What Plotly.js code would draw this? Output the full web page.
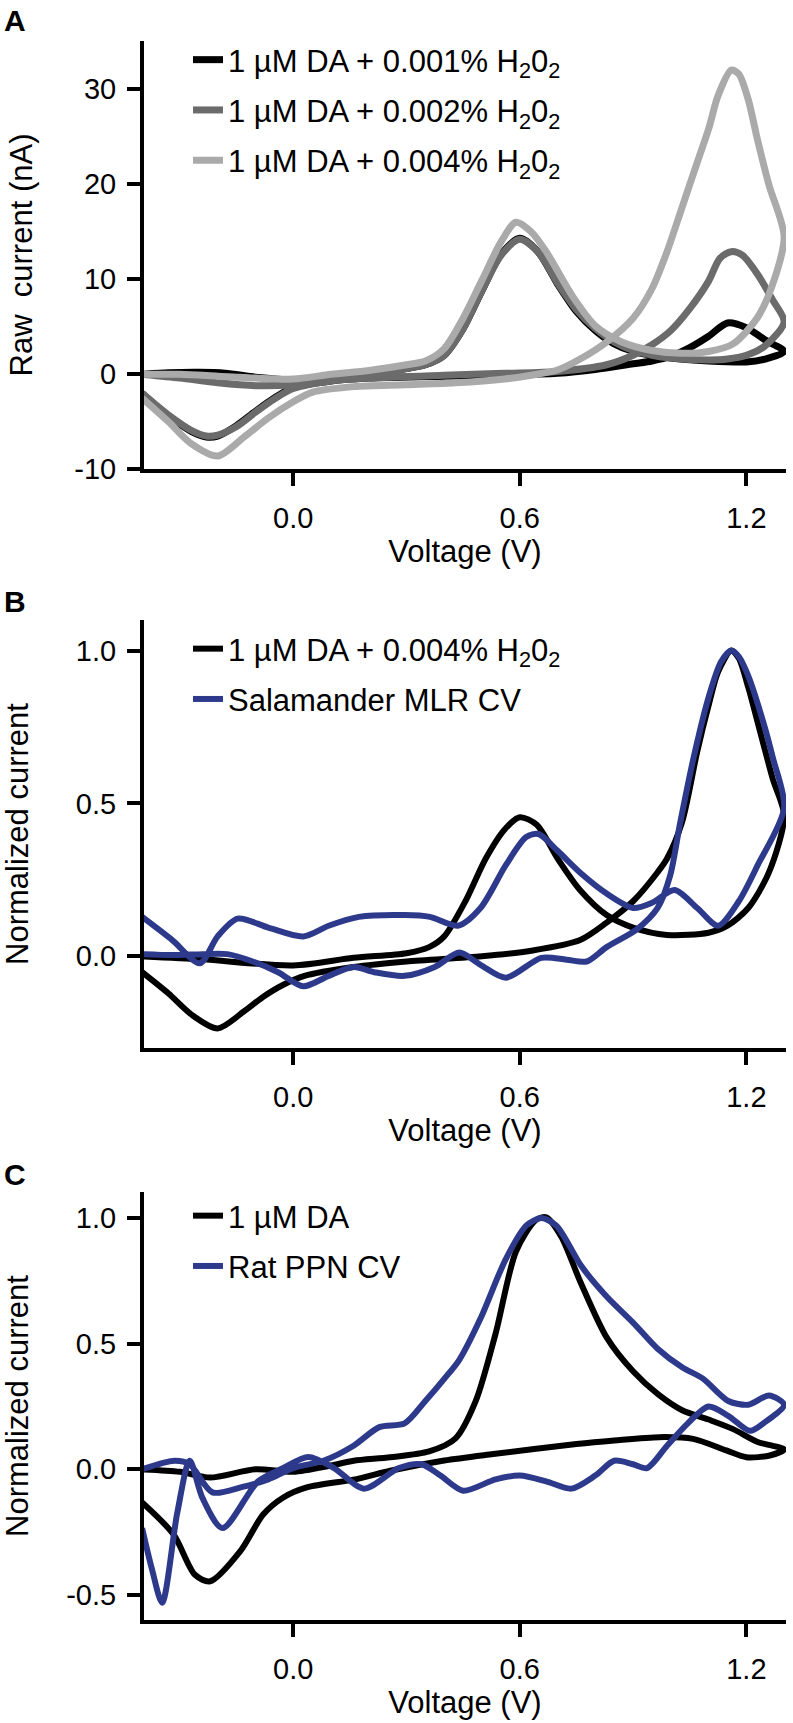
<!DOCTYPE html>
<html>
<head>
<meta charset="utf-8">
<script src="https://cdn.plot.ly/plotly-3.0.1.min.js"></script>
<style>html,body{margin:0;padding:0;background:#fff}#chart{width:793px;height:1723px}</style>
</head>
<body>
<div id="chart"></div>
<script>
// ---------- Panel A : raw current (nA) ----------
const aBlackName = '1 µM DA + 0.001% H<sub>2</sub>0<sub>2</sub>';
const aBlackV = [-0.40,-0.33,-0.25,-0.18,-0.10,0.00,0.10,0.20,0.30,0.35,0.40,0.45,0.50,0.55,0.60,0.65,0.70,0.75,0.80,0.85,0.90,1.00,1.10,1.20,1.25,1.30,
                 1.25,1.20,1.15,1.10,1.05,1.00,0.95,0.90,0.80,0.70,0.55,0.40,0.20,0.10,0.00,-0.05,-0.10,-0.15,-0.20,-0.23,-0.27,-0.33,-0.40];
const aBlackI = [0.0,0.15,0.2,0.1,-0.3,-0.6,-0.5,0.0,0.6,1.0,2.0,4.8,8.8,12.6,14.3,12.8,9.5,6.6,4.6,3.2,2.4,1.7,1.4,1.3,1.6,2.4,
                 3.6,4.9,5.4,4.0,2.8,1.9,1.4,1.1,0.5,0.1,-0.1,-0.2,-0.4,-0.7,-1.4,-2.5,-3.9,-5.4,-6.5,-6.6,-6.0,-4.4,-2.0];

const aGrayName = '1 µM DA + 0.002% H<sub>2</sub>0<sub>2</sub>';
const aGrayV = [-0.40,-0.30,-0.20,-0.10,0.00,0.10,0.20,0.30,0.35,0.40,0.45,0.50,0.55,0.60,0.65,0.70,0.75,0.80,0.85,0.90,0.95,1.00,1.10,1.15,1.20,1.25,1.30,
                1.27,1.23,1.19,1.16,1.13,1.10,1.05,1.00,0.95,0.90,0.83,0.70,0.56,0.40,0.20,0.10,0.00,-0.05,-0.10,-0.15,-0.20,-0.23,-0.27,-0.33,-0.40];
const aGrayI = [0.0,-0.4,-0.9,-1.2,-1.1,-0.6,0.0,0.6,1.0,2.0,4.8,8.8,12.5,14.2,12.8,9.6,6.8,4.8,3.4,2.5,2.0,1.7,1.5,1.6,2.0,3.0,5.5,
                7.8,10.5,12.5,12.9,12.2,9.8,6.9,4.6,3.1,2.0,1.0,0.3,0.1,-0.1,-0.4,-0.7,-1.5,-2.6,-4.0,-5.5,-6.4,-6.5,-5.9,-4.3,-2.0];

const aLightName = '1 µM DA + 0.004% H<sub>2</sub>0<sub>2</sub>';
const aLightV = [-0.40,-0.30,-0.20,-0.10,0.00,0.10,0.20,0.30,0.35,0.40,0.45,0.50,0.55,0.59,0.63,0.67,0.74,0.80,0.87,0.95,1.03,1.10,1.165,1.23,1.27,1.30,
                 1.26,1.23,1.205,1.18,1.16,1.125,1.10,1.07,1.03,0.99,0.95,0.90,0.83,0.76,0.70,0.63,0.56,0.43,0.30,0.16,0.05,0.00,-0.066,-0.13,-0.20,-0.27,-0.33,-0.40];
const aLightI = [0.0,0.0,-0.2,-0.4,-0.5,0.0,0.4,1.0,1.4,2.7,5.9,9.9,13.9,16.0,15.0,12.9,8.2,5.1,3.4,2.5,2.2,2.4,3.2,6.0,9.5,14.5,
                 19.9,24.6,28.9,31.6,32.0,29.3,25.8,22.3,17.6,12.9,9.0,5.9,3.4,1.6,0.45,-0.1,-0.5,-0.9,-1.1,-1.3,-1.9,-2.9,-4.6,-6.6,-8.6,-7.3,-5.0,-2.5];

// ---------- Panel B : normalized current ----------
const bBlackName = '1 µM DA + 0.004% H<sub>2</sub>0<sub>2</sub>';
const bBlackV = [-0.40,-0.24,0.00,0.16,0.30,0.36,0.40,0.456,0.51,0.56,0.60,0.645,0.70,0.76,0.83,0.90,0.99,1.10,1.15,1.205,1.26,1.30,
                 1.27,1.23,1.205,1.18,1.16,1.125,1.10,1.07,1.03,0.99,0.965,0.90,0.83,0.76,0.63,0.50,0.30,0.16,0.03,-0.026,-0.08,-0.13,-0.20,-0.27,-0.33,-0.40];
const bBlackI = [0.0,-0.01,-0.03,-0.005,0.01,0.03,0.065,0.18,0.32,0.415,0.455,0.43,0.32,0.216,0.135,0.094,0.07,0.077,0.10,0.158,0.275,0.46,
                 0.58,0.765,0.88,0.975,1.0,0.93,0.82,0.67,0.44,0.32,0.275,0.18,0.11,0.053,0.018,0.0,-0.017,-0.035,-0.064,-0.093,-0.133,-0.18,-0.236,-0.19,-0.122,-0.052];

const bBlueName = 'Salamander MLR CV';
const bBlueV = [-0.40,-0.32,-0.247,-0.20,-0.147,-0.066,0.027,0.094,0.174,0.295,0.362,0.436,0.496,0.563,0.617,0.65,0.70,0.764,0.83,0.90,0.95,1.01,1.07,1.125,1.18,1.23,1.30,
                1.27,1.245,1.205,1.18,1.16,1.133,1.10,1.06,1.025,0.998,0.965,0.91,0.83,0.777,0.724,0.657,0.563,0.496,0.44,0.375,0.295,0.215,0.16,0.094,0.027,-0.04,-0.107,-0.174,-0.24,-0.32,-0.40];
const bBlueI = [0.129,0.053,-0.023,0.065,0.123,0.094,0.065,0.10,0.129,0.135,0.129,0.10,0.158,0.298,0.39,0.40,0.345,0.269,0.205,0.158,0.175,0.217,0.158,0.10,0.18,0.298,0.485,
                0.65,0.765,0.917,0.98,1.0,0.963,0.847,0.648,0.438,0.263,0.158,0.088,0.03,-0.017,-0.011,-0.005,-0.07,-0.028,0.012,-0.035,-0.064,-0.052,-0.035,-0.064,-0.098,-0.052,-0.017,0.007,0.007,0.004,0.007];

// ---------- Panel C : normalized current ----------
const cBlackName = '1 µM DA';
const cBlackV = [-0.40,-0.30,-0.22,-0.10,0.00,0.10,0.16,0.257,0.36,0.43,0.483,0.536,0.59,0.643,0.67,0.71,0.76,0.83,0.90,0.965,1.03,1.10,1.165,1.23,1.30,
                 1.262,1.20,1.147,1.059,0.97,0.85,0.75,0.53,0.40,0.257,0.168,0.036,-0.026,-0.079,-0.14,-0.22,-0.26,-0.317,-0.40];
const cBlackI = [0.0,-0.01,-0.033,0.0,-0.01,0.015,0.034,0.048,0.071,0.123,0.27,0.54,0.867,0.993,1.003,0.926,0.748,0.525,0.39,0.30,0.235,0.198,0.16,0.109,0.079,
                 0.055,0.048,0.075,0.121,0.128,0.115,0.101,0.061,0.035,-0.006,-0.039,-0.072,-0.112,-0.179,-0.326,-0.446,-0.42,-0.259,-0.132];

const cBlueName = 'Rat PPN CV';
const cBlueV = [-0.40,-0.314,-0.274,-0.214,-0.134,-0.066,0.00,0.08,0.16,0.228,0.295,0.35,0.40,0.44,0.496,0.563,0.617,0.657,0.697,0.764,0.83,0.90,0.965,1.03,1.085,1.152,1.205,1.26,1.30,
                1.245,1.21,1.152,1.10,1.045,0.99,0.937,0.90,0.85,0.80,0.737,0.67,0.60,0.536,0.45,0.39,0.34,0.28,0.188,0.108,0.04,-0.026,-0.093,-0.187,-0.24,-0.274,-0.307,-0.347,-0.374,-0.40];
const cBlueI = [0.0,0.034,0.02,-0.092,-0.07,-0.04,0.005,0.034,0.094,0.168,0.183,0.272,0.36,0.436,0.60,0.837,0.97,1.0,0.97,0.807,0.688,0.584,0.48,0.406,0.361,0.272,0.257,0.294,0.257,
                0.183,0.153,0.213,0.25,0.183,0.094,0.005,0.02,0.034,-0.025,-0.077,-0.048,-0.025,-0.04,-0.085,-0.025,0.02,0.005,-0.077,0.005,0.049,0.005,-0.048,-0.234,-0.115,0.034,-0.174,-0.531,-0.397,-0.234];

// ---------- Axis ticks ----------
const xTickVals = [0, 0.6, 1.2];
const xTickText = ['0.0', '0.6', '1.2'];
const aTickVals = [-10, 0, 10, 20, 30];
const aTickText = ['-10', '0', '10', '20', '30'];
const bTickVals = [0, 0.5, 1.0];
const bTickText = ['0.0', '0.5', '1.0'];
const cTickVals = [-0.5, 0, 0.5, 1.0];
const cTickText = ['-0.5', '0.0', '0.5', '1.0'];

// ---------- styling ----------
const FONT = 'Liberation Sans, Arial, Helvetica, sans-serif';
const BLACK = '#000000', DARK = '#6b6b6b', LIGHT = '#aaaaaa', BLUE = '#2d3a8c';
const H = 1723, W = 793;

function trace(x, y, name, color, width, xa, ya, legend, group) {
  return {x: x, y: y, name: name, type: 'scatter', mode: 'lines',
          line: {color: color, width: width, shape: 'spline', smoothing: 0.8},
          xaxis: xa, yaxis: ya, legend: legend, legendgroup: group, hoverinfo: 'skip'};
}

const data = [
  trace(aBlackV, aBlackI, aBlackName, BLACK, 7, 'x', 'y', 'legend', 'a1'),
  trace(aGrayV, aGrayI, aGrayName, DARK, 7, 'x', 'y', 'legend', 'a2'),
  trace(aLightV, aLightI, aLightName, LIGHT, 7, 'x', 'y', 'legend', 'a3'),
  trace(bBlackV, bBlackI, bBlackName, BLACK, 6, 'x2', 'y2', 'legend2', 'b1'),
  trace(bBlueV, bBlueI, bBlueName, BLUE, 6, 'x2', 'y2', 'legend2', 'b2'),
  trace(cBlackV, cBlackI, cBlackName, BLACK, 6, 'x3', 'y3', 'legend3', 'c1'),
  trace(cBlueV, cBlueI, cBlueName, BLUE, 6, 'x3', 'y3', 'legend3', 'c2')
];

const xDom = [144 / W, 786 / W];
function py(pix) { return 1 - pix / H; }

function xaxis(anchor) {
  return {domain: xDom, anchor: anchor, range: [-0.395, 1.305],
          tickmode: 'array', tickvals: xTickVals, ticktext: xTickText,
          showline: true, linecolor: '#000', linewidth: 4, mirror: false,
          ticks: 'outside', ticklen: 13, tickwidth: 4, tickcolor: '#000',
          showgrid: false, zeroline: false, ticklabelstandoff: 7,
          tickfont: {family: FONT, size: 29, color: '#000'},
          title: {text: 'Voltage (V)', font: {family: FONT, size: 31, color: '#000'}, standoff: 5}};
}
function yaxis(anchor, dom, range, tv, tt, title, standoff) {
  return {domain: dom, anchor: anchor, range: range,
          tickmode: 'array', tickvals: tv, ticktext: tt,
          showline: true, linecolor: '#000', linewidth: 4,
          ticks: 'outside', ticklen: 13, tickwidth: 4, tickcolor: '#000',
          showgrid: false, zeroline: false, ticklabelstandoff: 5,
          tickfont: {family: FONT, size: 29, color: '#000'},
          title: {text: title, font: {family: FONT, size: 31, color: '#000'}, standoff: standoff}};
}
function legend(topPix) {
  return {x: 188 / W, xanchor: 'left', y: py(topPix), yanchor: 'top',
          bgcolor: 'rgba(0,0,0,0)', borderwidth: 0, traceorder: 'grouped', tracegroupgap: 7,
          font: {family: FONT, size: 31, color: '#000'}, itemwidth: 30};
}

const layout = {
  width: W, height: H, margin: {l: 0, r: 0, t: 0, b: 0},
  paper_bgcolor: '#fff', plot_bgcolor: '#fff', showlegend: true,
  font: {family: FONT, color: '#000'},
  xaxis: xaxis('y'), xaxis2: xaxis('y2'), xaxis3: xaxis('y3'),
  yaxis: yaxis('x', [py(469.3), py(40.7)], [-10, 35.1], aTickVals, aTickText, 'Raw&nbsp; current (nA)', 33),
  yaxis2: yaxis('x2', [py(1048), py(620)], [-0.3, 1.1], bTickVals, bTickText, 'Normalized current', 40),
  yaxis3: yaxis('x3', [py(1620), py(1192)], [-0.6, 1.104], cTickVals, cTickText, 'Normalized current', 34),
  legend: legend(33), legend2: legend(622), legend3: legend(1189),
  annotations: [
    {text: '<b>A</b>', x: 2 / W, y: py(21), xref: 'paper', yref: 'paper', xanchor: 'left', yanchor: 'middle', showarrow: false, font: {family: FONT, size: 30, color: '#000'}},
    {text: '<b>B</b>', x: 2 / W, y: py(601), xref: 'paper', yref: 'paper', xanchor: 'left', yanchor: 'middle', showarrow: false, font: {family: FONT, size: 30, color: '#000'}},
    {text: '<b>C</b>', x: 2 / W, y: py(1174), xref: 'paper', yref: 'paper', xanchor: 'left', yanchor: 'middle', showarrow: false, font: {family: FONT, size: 30, color: '#000'}}
  ]
};

Plotly.newPlot('chart', data, layout, {staticPlot: true, displayModeBar: false});
</script>
</body>
</html>
